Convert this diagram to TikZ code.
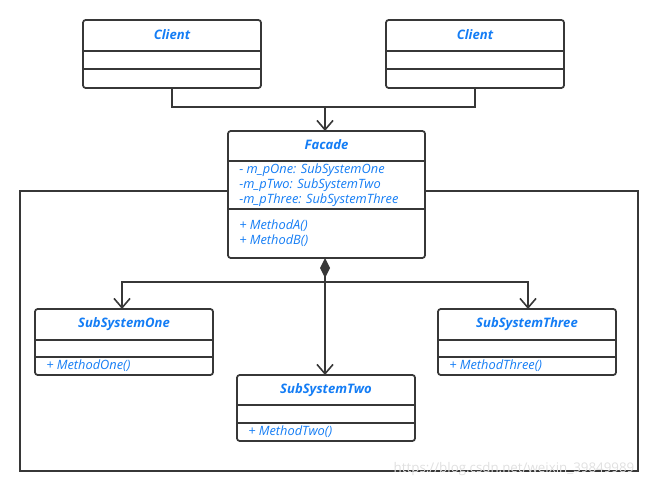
\documentclass[tikz,border=0pt]{standalone}
\usepackage{fontspec}
\setmainfont{Open Sans}
\usetikzlibrary{arrows.meta}
\definecolor{umlblue}{RGB}{20,125,245}
\definecolor{umlline}{RGB}{55,55,55}
\begin{document}
\begin{tikzpicture}[x=0.75pt,y=-0.75pt,
  cls/.style={draw=umlline,fill=white,line width=1.3pt,rounded corners=2pt,minimum width=#1,inner sep=0pt},
  ttl/.style={font=\fontsize{9.8}{11}\selectfont\bfseries\itshape,text=umlblue},
  mem/.style={font=\fontsize{9.6}{11}\selectfont\itshape,text=umlblue,anchor=west,inner sep=0pt},
  div/.style={draw=umlline,line width=1.3pt},
  conn/.style={draw=umlline,line width=1.4pt},
  openarr/.style={-{Straight Barb[length=7pt,width=12pt,line width=1.2pt]}}]
\useasboundingbox (0,0) rectangle (660,491);
% frame
\draw[umlline,line width=1.3pt] (20,191) rectangle (638,471);
% Clients
\node[cls=178*0.75pt,minimum height=68*0.75pt] (c1) at (172,54) {};
\node[cls=178*0.75pt,minimum height=68*0.75pt] (c2) at (475,54) {};
\draw[div] (83,51) -- (261,51) (83,69) -- (261,69);
\draw[div] (386,51) -- (564,51) (386,69) -- (564,69);
\node[ttl] (c1t) at (172,35) {Client};
\node[ttl] (c2t) at (475,35) {Client};
% Facade
\node[cls=197*0.75pt,minimum height=127*0.75pt] (fac) at (326.5,194.5) {};
\draw[div] (228,161) -- (425,161) (228,209) -- (425,209);
\node[ttl] (fact) at (326.5,145) {Facade};
\node[mem] (a1) at (239,170) {- m\_pOne: SubSystemOne};
\node[mem] (a2) at (239,185) {-m\_pTwo: SubSystemTwo};
\node[mem] (a3) at (239,200) {-m\_pThree: SubSystemThree};
\node[mem] (m1) at (239,226) {+ MethodA()};
\node[mem] (m2) at (239,241) {+ MethodB()};
% Subsystems
\node[cls=178*0.75pt,minimum height=66*0.75pt] (s1) at (124,342) {};
\draw[div] (35,340) -- (213,340) (35,357) -- (213,357);
\node[ttl] (s1t) at (124,324) {SubSystemOne};
\node[mem] (s1m) at (46,366) {+ MethodOne()};
\node[cls=178*0.75pt,minimum height=66*0.75pt] (s2) at (326,408) {};
\draw[div] (237,405) -- (415,405) (237,423) -- (415,423);
\node[ttl] (s2t) at (326,390) {SubSystemTwo};
\node[mem] (s2m) at (248,432) {+ MethodTwo()};
\node[cls=178*0.75pt,minimum height=66*0.75pt] (s3) at (527,342) {};
\draw[div] (438,340) -- (616,340) (438,357) -- (616,357);
\node[ttl] (s3t) at (527,324) {SubSystemThree};
\node[mem] (s3m) at (449,366) {+ MethodThree()};
% connectors from clients
\coordinate (j1) at (325,107);
\draw[conn] (c1.south) |- (j1) -| (c2.south);
\draw[conn,openarr] (j1) -- (325,131);
% composition
\coordinate (j2) at (325,282);
\draw[conn,{Diamond[length=15pt,width=7.5pt]}-] (325,258) -- (j2);
\draw[conn,openarr] (j2) -| (122,309);
\draw[conn,openarr] (j2) -| (528,309);
\draw[conn,openarr] (j2) -- (325,375);
% watermark
\node[font=\fontsize{10}{12}\selectfont,text=black!12] (wm) at (514,469) {https://blog.csdn.net/weixin\_39849989};
\end{tikzpicture}
\end{document}
